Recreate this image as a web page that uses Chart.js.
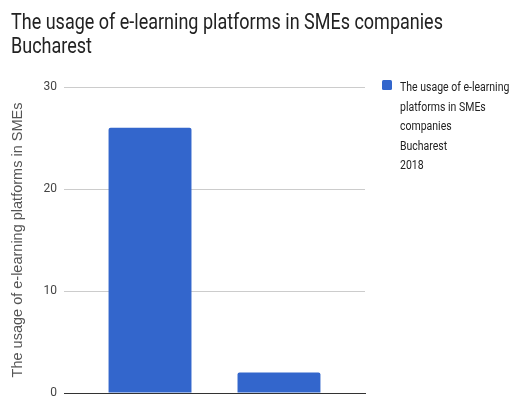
<!DOCTYPE html>
<html>
<head>
<meta charset="utf-8">
<script src="https://cdn.jsdelivr.net/npm/chart.js@4"></script>
<style>
  html, body { margin: 0; padding: 0; background: #fff; }
  #wrap { width: 515px; height: 399px; }
</style>
</head>
<body>
<div id="wrap"><canvas id="chart"></canvas></div>
<script>
const titleLines = ["The usage of e-learning platforms in SMEs companies", "Bucharest"];
const seriesName = "The usage of e-learning\nplatforms in SMEs\ncompanies\nBucharest\n2018";
const axisTitle = "The usage of e-learning platforms in SMEs";
const values = [26, 2];
const yTicks = [0, 10, 20, 30];

// bars sit at x = 1, 2 on a hidden linear axis
const points = values.map((v, i) => ({ x: i + 1, y: v }));

// draw text lines slightly condensed
const drawLines = (ctx, lines, x, y, step, squeeze) => {
  lines.forEach((line, i) => {
    ctx.save();
    ctx.translate(x, y + i * step);
    ctx.scale(squeeze, 1);
    ctx.fillText(line, 0, 0);
    ctx.restore();
  });
};

// title + legend with wrapped text, drawn by hand
const textBlocks = {
  id: "textBlocks",
  afterDraw(chart) {
    const ctx = chart.ctx;
    const ds = chart.data.datasets[0];
    ctx.save();
    ctx.textBaseline = "alphabetic";

    ctx.fillStyle = "#222";
    ctx.font = "22.5px Roboto";
    drawLines(ctx, titleLines, 11, 28.7, 24.6, 0.8);

    const left = chart.chartArea.right + 17;
    const top = chart.chartArea.top - 7;
    ctx.fillStyle = ds.backgroundColor;
    ctx.beginPath();
    ctx.roundRect(left, top, 10, 10, 1.5);
    ctx.fill();
    ctx.fillStyle = "#222";
    ctx.font = "12.5px Roboto";
    drawLines(ctx, ds.label.split("\n"), left + 18, top + 11, 19.5, 0.84);
    ctx.restore();
  },
};

new Chart(document.getElementById("chart"), {
  type: "bar",
  data: {
    datasets: [
      {
        label: seriesName,
        data: points,
        backgroundColor: "#3366cc",
        borderRadius: 2,
        borderSkipped: "bottom",
        categoryPercentage: 1,
        barPercentage: 0.643,
      },
    ],
  },
  options: {
    responsive: true,
    maintainAspectRatio: false,
    animation: false,
    layout: { padding: { left: 0, right: 150, top: 87, bottom: 6 } },
    plugins: {
      legend: { display: false },
      tooltip: { enabled: false },
    },
    scales: {
      x: {
        type: "linear",
        min: 0.333,
        max: 2.667,
        offset: false,
        afterBuildTicks(scale) {
          scale.ticks = points.map((p) => ({ value: p.x }));
        },
        afterFit(scale) {
          scale.height = 0;
          scale.paddingLeft = 0;
          scale.paddingRight = 0;
        },
        ticks: { display: false },
        grid: { display: false },
        border: { display: true, color: "#333", width: 1 },
      },
      y: {
        min: 0,
        max: 30,
        afterBuildTicks(scale) {
          scale.ticks = yTicks.map((v) => ({ value: v }));
        },
        afterFit(scale) {
          scale.width = 64;
          scale.paddingTop = 0;
          scale.paddingBottom = 0;
        },
        ticks: {
          color: "#444",
          padding: 7,
          font: { family: "Roboto", size: 12 },
        },
        grid: { color: "#ccc", drawTicks: false },
        border: { display: false },
        title: {
          display: true,
          text: axisTitle,
          color: "#555",
          font: { family: "Liberation Sans", size: 14.5, lineHeight: 1 },
          padding: { top: 11, bottom: 4 },
        },
      },
    },
  },
  plugins: [textBlocks],
});
</script>
</body>
</html>
